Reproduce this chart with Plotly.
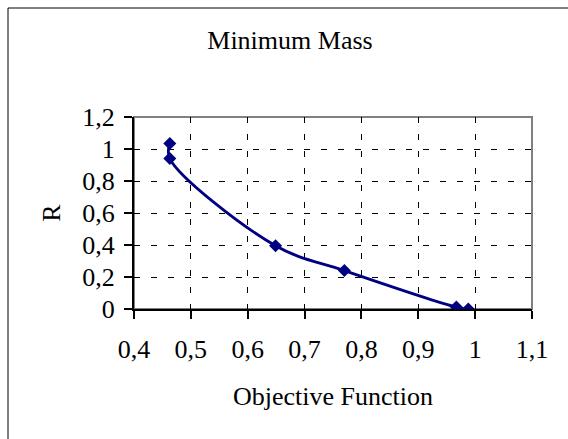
import plotly.graph_objects as go

# Data
objective_function = [0.463, 0.463, 0.649, 0.770, 0.967, 0.988]
r_values = [1.035, 0.94, 0.395, 0.24, 0.012, 0.0]

x_tickvals = [0.4, 0.5, 0.6, 0.7, 0.8, 0.9, 1.0, 1.1]
y_tickvals = [0, 0.2, 0.4, 0.6, 0.8, 1.0, 1.2]

FONT = "Liberation Serif, Times New Roman, serif"
NAVY = "#000080"

W, H = 568, 439
L, R, T, B = 134, 36, 117, 130
pw, ph = W - L - R, H - T - B

def px_x(p):
    return (p - L) / pw

def px_y(p):
    return (H - B - p) / ph

fig = go.Figure()
fig.add_trace(go.Scatter(
    x=objective_function, y=r_values,
    mode="lines+markers",
    line=dict(color=NAVY, width=2.8, shape="spline", smoothing=1),
    marker=dict(symbol="diamond", size=10, color=NAVY),
    showlegend=False,
))

fig.update_layout(
    width=W, height=H,
    margin=dict(l=L, r=R, t=T, b=B),
    paper_bgcolor="white", plot_bgcolor="white",
    separators=", ",
    font=dict(family=FONT, size=26, color="black"),
    title=dict(text="Minimum Mass", x=290 / W, xref="container", xanchor="center",
               y=1 - 40 / H, yref="container", yanchor="middle",
               font=dict(family=FONT, size=26, color="black")),
    xaxis=dict(
        range=[0.4, 1.1], tickvals=x_tickvals,
        showgrid=True, gridcolor="black", gridwidth=1, griddash="6px,11px",
        showline=True, linecolor="black", linewidth=2,
        ticks="outside", ticklen=8, tickwidth=1.5, tickcolor="black",
        zeroline=False, ticklabelstandoff=8,
        title=dict(text="Objective Function", standoff=24,
                   font=dict(family=FONT, size=26)),
        tickfont=dict(family=FONT, size=26),
    ),
    yaxis=dict(
        range=[0, 1.2], tickvals=y_tickvals,
        showgrid=True, gridcolor="black", gridwidth=1, griddash="6px,11px",
        showline=True, linecolor="black", linewidth=2,
        ticks="outside", ticklen=8, tickwidth=1.5, tickcolor="black",
        zeroline=False, ticklabelstandoff=4,
        title=dict(text="R", standoff=14, font=dict(family=FONT, size=26)),
        tickfont=dict(family=FONT, size=26),
    ),
    shapes=[
        dict(type="rect", xref="paper", yref="paper", x0=0, x1=1, y0=0, y1=1,
             line=dict(color="#808080", width=2), layer="below"),
        dict(type="rect", xref="paper", yref="paper",
             x0=px_x(8), x1=px_x(W + 10), y0=px_y(H + 10), y1=px_y(8),
             line=dict(color="black", width=1), layer="below"),
    ],
)

fig.write_html("out.html")
